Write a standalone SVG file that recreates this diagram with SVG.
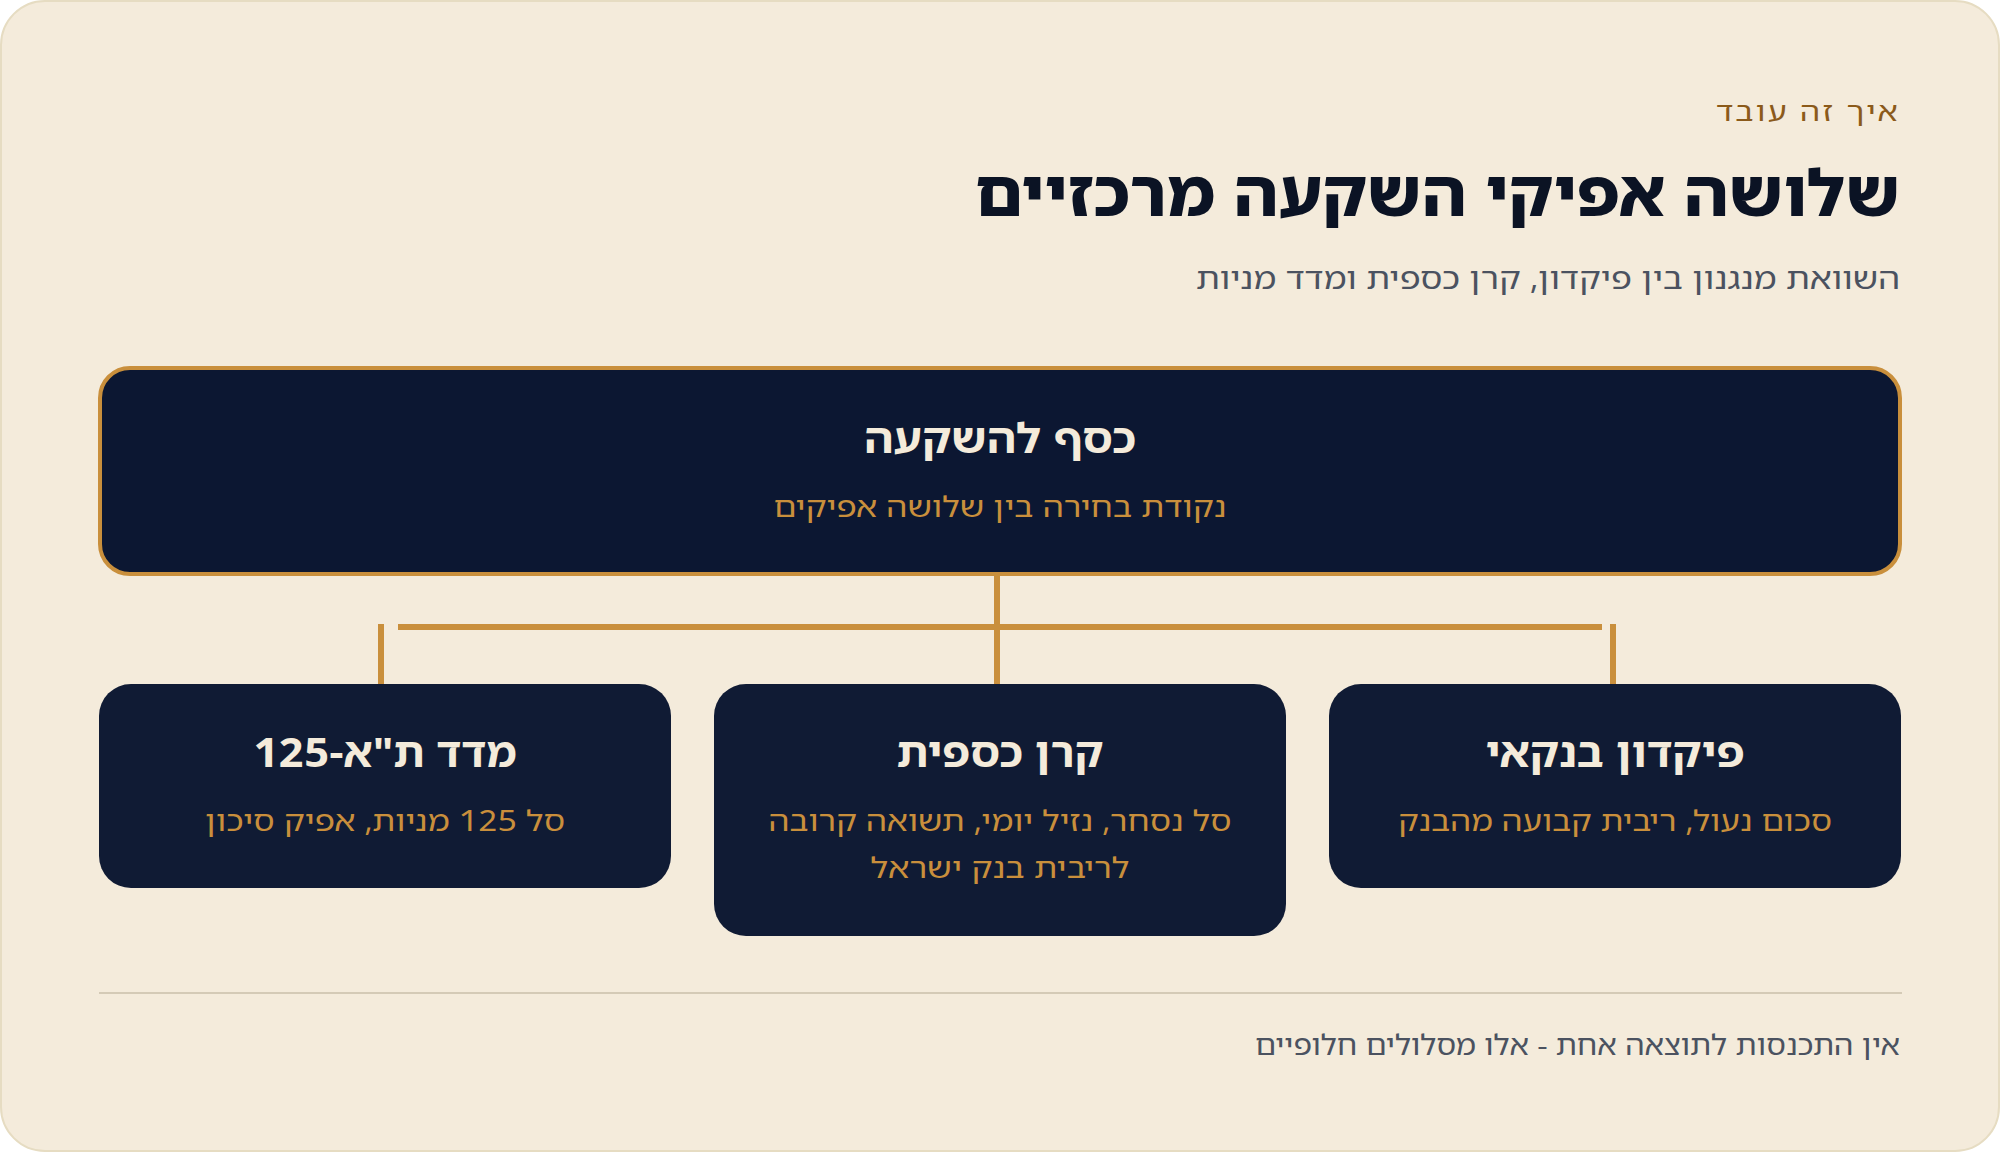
<svg xmlns="http://www.w3.org/2000/svg" width="2000" height="1152" viewBox="0 0 2000 1152">
<style>
text{font-family:"Noto Sans Hebrew","Open Sans","Noto Sans","DejaVu Sans",sans-serif;direction:rtl}
.r{text-anchor:start}
.c{text-anchor:middle}
.ttl{font-weight:700;fill:#F4EBDB;font-size:41px}
.dsc{fill:#C98F3C;font-size:29px}
.ln{fill:#C98F3C}
.child{fill:#101B34}
</style>
<rect x="1" y="1" width="1998" height="1150" rx="44" fill="#F4EBDB" stroke="#E6DCC2" stroke-width="2"/>
<g id="header">
<text x="1900" y="121" class="r" font-size="27" fill="#8B5A1A" letter-spacing="2" direction="rtl" textLength="184" lengthAdjust="spacingAndGlyphs">איך זה עובד</text>
<text x="1900" y="216" class="r" font-size="64" font-weight="800" fill="#0B1324" direction="rtl" textLength="925" lengthAdjust="spacingAndGlyphs">שלושה אפיקי השקעה מרכזיים</text>
<text x="1900" y="289" class="r" font-size="30" fill="#4B5260" direction="rtl" textLength="704" lengthAdjust="spacingAndGlyphs">השוואת מנגנון בין פיקדון, קרן כספית ומדד מניות</text>
</g>
<g id="connectors">
<rect class="ln" x="994" y="576" width="6" height="108"/>
<rect class="ln" x="398" y="624" width="1204" height="6"/>
<rect class="ln" x="378" y="624" width="6" height="60"/>
<rect class="ln" x="1610" y="624" width="6" height="60"/>
</g>
<g id="root">
<rect x="100" y="368" width="1800" height="206" rx="30" fill="#0C1732" stroke="#C98F3C" stroke-width="4"/>
<text x="1000" y="453" class="c ttl" direction="rtl" textLength="272" lengthAdjust="spacingAndGlyphs">כסף להשקעה</text>
<text x="1000" y="517" class="c dsc" direction="rtl" textLength="453" lengthAdjust="spacingAndGlyphs">נקודת בחירה בין שלושה אפיקים</text>
</g>
<g id="node-deposit">
<rect class="child" x="1329" y="684" width="572" height="204" rx="32"/>
<text x="1615" y="767" class="c ttl" direction="rtl" textLength="259" lengthAdjust="spacingAndGlyphs">פיקדון בנקאי</text>
<text x="1615" y="831" class="c dsc" direction="rtl" textLength="434" lengthAdjust="spacingAndGlyphs">סכום נעול, ריבית קבועה מהבנק</text>
</g>
<g id="node-money-fund">
<rect class="child" x="714" y="684" width="572" height="252" rx="32"/>
<text x="1000" y="767" class="c ttl" direction="rtl" textLength="207" lengthAdjust="spacingAndGlyphs">קרן כספית</text>
<text x="1000" y="831" class="c dsc" direction="rtl" textLength="463" lengthAdjust="spacingAndGlyphs">סל נסחר, נזיל יומי, תשואה קרובה</text>
<text x="1000" y="878" class="c dsc" direction="rtl" textLength="259" lengthAdjust="spacingAndGlyphs">לריבית בנק ישראל</text>
</g>
<g id="node-index">
<rect class="child" x="99" y="684" width="572" height="204" rx="32"/>
<text x="385" y="767" class="c ttl" direction="rtl" textLength="263" lengthAdjust="spacingAndGlyphs">מדד ת"א-125</text>
<text x="385" y="831" class="c dsc" direction="rtl" textLength="360" lengthAdjust="spacingAndGlyphs">סל 125 מניות, אפיק סיכון</text>
</g>
<g id="footer">
<rect x="99" y="992" width="1803" height="2" fill="#D4CAB6"/>
<text x="1900" y="1055" class="r" font-size="28" fill="#4B5260" direction="rtl" textLength="645" lengthAdjust="spacingAndGlyphs">אין התכנסות לתוצאה אחת - אלו מסלולים חלופיים</text>
</g>
</svg>
